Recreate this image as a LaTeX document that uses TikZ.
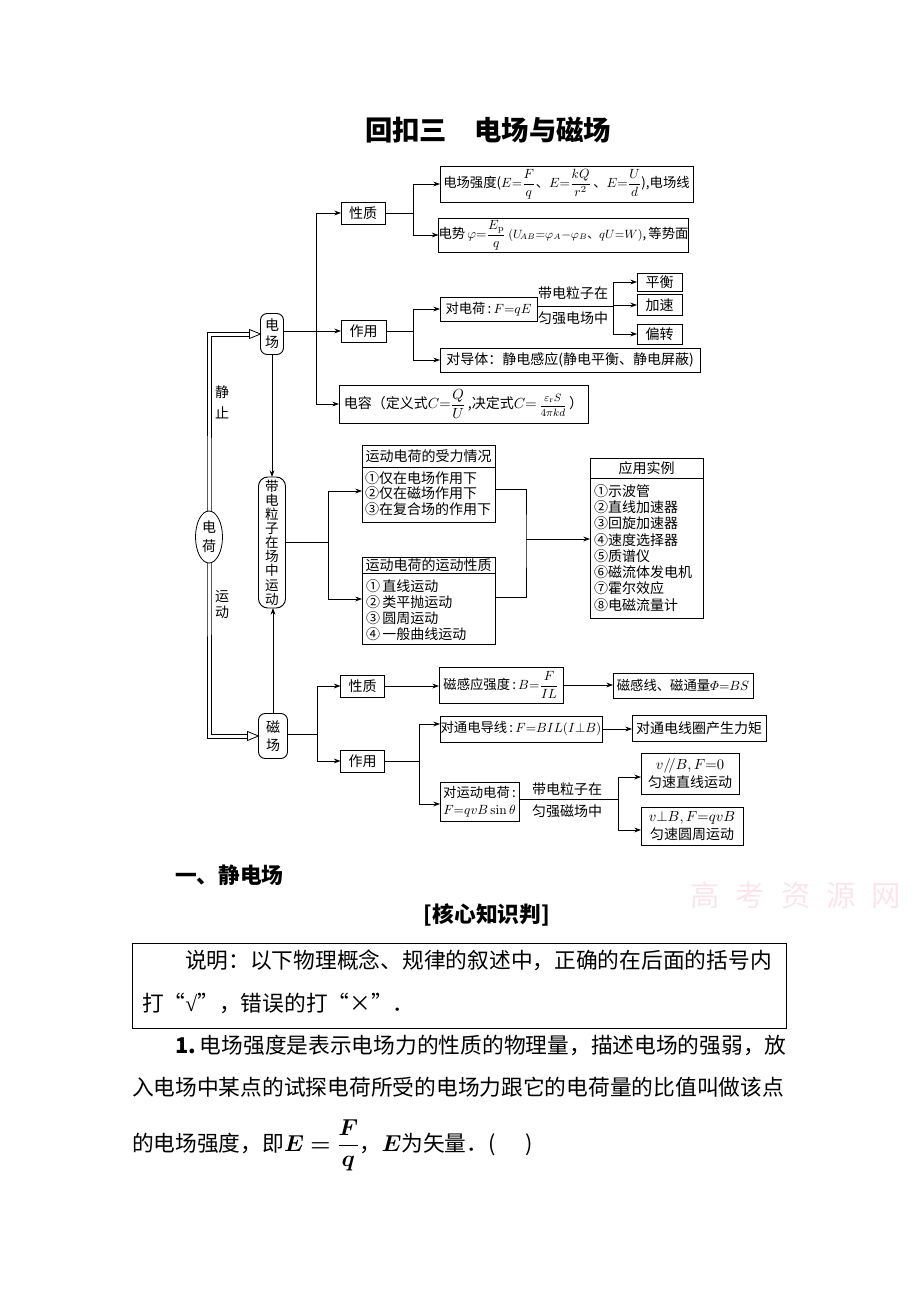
\documentclass[tikz,border=0pt]{standalone}
\usepackage{amsmath,bm}
\usepackage[no-math]{fontspec}
\setmainfont{Noto Sans CJK SC}
\newfontfamily\serifl{Liberation Serif}
\usetikzlibrary{arrows.meta,shapes.geometric,calc}
\newcommand\dgfont{\fontsize{10.5}{12}\selectfont}
\newcommand\smfont{\fontsize{10}{12}\selectfont}
\newcommand\titlefont{\fontsize{20.5}{20.5}\selectfont\bfseries}
\newcommand\secfont{\fontsize{16.3}{16.3}\selectfont\bfseries}
\newcommand\bodyfont{\fontsize{16.3}{16.3}\selectfont}
\definecolor{wmpink}{RGB}{252,228,237}
\begin{document}
\begin{tikzpicture}[x=0.75pt,y=-0.75pt,
  every node/.style={inner sep=0pt,outer sep=0pt,font=\dgfont,align=center},
  ln/.style={line width=0.6pt},
  arr/.style={ln,-{Stealth[length=5pt,width=3.6pt]}},
  box/.style={draw,line width=0.7pt,align=center},
  rbox/.style={box,rounded corners=5pt},
  sz/.style 2 args={minimum width=#1*0.75pt,minimum height=#2*0.75pt}]
\useasboundingbox (0,0) rectangle (920,1302);

% title
\node[font=\titlefont] (title) at (488,130) {回扣三　电场与磁场};

% ---- electric field part
\node[rbox,sz={23}{41},font=\fontsize{10.5}{12.8}\selectfont] (dc) at (272,334) {电\\场};
\node[box,sz={44}{22}] (xz1) at (363,213) {性质};
\node[box,sz={253}{36},font=\smfont] (qd) at (566.5,184) {电场强度($E{=}\dfrac{F}{q}$、$E{=}\dfrac{kQ}{r^2}$\,、$E{=}\dfrac{U}{d}$),电场线};
\node[box,sz={247}{34},font=\smfont] (ds) at (563.5,235) {电势$\,\varphi{=}\dfrac{E_{\mathrm p}}{q}$\,{\fontsize{8.8}{10}\selectfont$(U_{\!AB}{=}\varphi_A{-}\varphi_B$、$qU{=}W)$},\,等势面};
\node[box,sz={45}{22}] (zy1) at (363.5,331) {作用};
\node[box,sz={97}{24},font=\smfont] (ddh) at (488.5,309) {对电荷\,:\,$F{=}qE$};
\node[box,sz={45}{18}] (ph) at (659.5,282) {平衡};
\node[box,sz={45}{21}] (js) at (659.5,305) {加速};
\node[box,sz={45}{20}] (pz) at (659.5,334) {偏转};
\node[box,sz={260}{24}] (ddt) at (570,360) {对导体：静电感应(静电平衡、静电屏蔽)};
\node[box,sz={249}{38}] (dr) at (463.5,404) {电容（定义式$C{=}\dfrac{Q}{U}$\,,决定式$C{=}$\,{\fontsize{8}{9}\selectfont$\dfrac{\varepsilon_{\mathrm r}S}{4\pi kd}$}\,）};
\node (l1) at (573,293) {带电粒子在};
\node (l2) at (573,318) {匀强电场中};

\coordinate (b1) at ($(dc.east|-zy1.west)+(32.5,0)$);
\draw[arr] (dc.east|-zy1.west) -- (zy1.west);
\draw[arr] (b1) |- (xz1.west);
\draw[arr] (b1) |- (dr.west);
\draw[ln] (xz1.east) -- ++(28,0) coordinate (b2);
\draw[arr] (b2) |- (qd.west);
\draw[arr] (b2) |- (ds.west);
\draw[ln] (zy1.east) -- ++(27,0) coordinate (b3);
\draw[arr] (b3) |- (ddh.west);
\draw[arr] (b3) |- (ddt.west);
\draw[ln] ($(ddh.east)+(0,-3)$) -- ++(76,0) coordinate (b4);
\draw[arr] (b4) |- (ph.west);
\draw[arr] (b4) |- (js.west);
\draw[arr] (b4) |- (pz.west);

% ---- left column
\node[rbox,rounded corners=7pt,sz={27}{131},font=\fontsize{10.2}{10.6}\selectfont] (dlz) at (272,542.5) {带\\电\\粒\\子\\在\\场\\中\\运\\动};
\node[rbox,sz={29}{45},font=\fontsize{10.5}{13.5}\selectfont] (cc) at (273,736) {磁\\场};
\coordinate (dhc) at (209,537);
\draw[ln] ($(dc.west)+(-10,-2)$) -| ($(dhc)+(-2,0)$) |- ($(cc.west)+(-10,2)$);
\draw[ln] ($(dc.west)+(-10,2)$) -| ($(dhc)+(2,0)$) |- ($(cc.west)+(-10,-2)$);
\draw[ln,fill=white] (dc.west) -- ++(-11,-4.5) -- ++(0,9) -- cycle;
\draw[ln,fill=white] (cc.west) -- ++(-11,-4.5) -- ++(0,9) -- cycle;
\node[draw,ellipse,ln,fill=white,sz={27}{52},font=\fontsize{10.5}{14}\selectfont] (dh) at (dhc) {电\\荷};
\node[font=\fontsize{10.5}{15.5}\selectfont] (jz) at (222,402) {静\\止};
\node[font=\fontsize{10.5}{12}\selectfont] (yd) at (222,605) {运\\动};
\draw[arr] (dc.south) -- (dlz.north);
\draw[arr] (cc.north) -- (cc.north|-dlz.south);

% ---- middle part
\node[box,sz={133}{77}] (sl) at (428.5,483.5) {};
\draw[ln] ($(sl.north west)+(0,22)$) -- ($(sl.north east)+(0,22)$);
\node (slh) at ($(sl.north)+(0,11)$) {运动电荷的受力情况};
\node[anchor=north west,align=left,font=\fontsize{10.5}{11.6}\selectfont] (sli) at ($(sl.north west)+(3,26.5)$) {①仅在电场作用下\\②仅在磁场作用下\\③在复合场的作用下};

\node[box,sz={133}{87}] (xz2) at (428.5,600.5) {};
\draw[ln] ($(xz2.north west)+(0,16)$) -- ($(xz2.north east)+(0,16)$);
\node (xz2h) at ($(xz2.north)+(0,8)$) {运动电荷的运动性质};
\node[anchor=north west,align=left,font=\fontsize{10.5}{12}\selectfont] (xz2i) at ($(xz2.north west)+(4,22.5)$) {①\,直线运动\\②\,类平抛运动\\③\,圆周运动\\④\,一般曲线运动};

\node[box,sz={113}{160}] (yy) at (646.5,538) {};
\draw[ln] ($(yy.north west)+(0,20)$) -- ($(yy.north east)+(0,20)$);
\node (yyh) at ($(yy.north)+(0,10)$) {应用实例};
\node[anchor=north west,align=left,font=\fontsize{10.5}{12.2}\selectfont] (yyi) at ($(yy.north west)+(4,26.5)$) {①示波管\\②直线加速器\\③回旋加速器\\④速度选择器\\⑤质谱仪\\⑥磁流体发电机\\⑦霍尔效应\\⑧电磁流量计};

\draw[ln] (dlz.east) -- ++(43,0) coordinate (b5);
\draw[arr] (b5) |- ($(sl.west)+(0,7.5)$);
\draw[arr] (b5) |- ($(xz2.west)+(0,-1.5)$);
\coordinate (b6) at ($(sl.east)+(31,55.5)$);
\draw[ln] ($(sl.east)+(0,5.5)$) -| (b6) |- ($(xz2.east)+(0,-3.5)$);
\draw[arr] (b6) -- (b6-|yy.west);

% ---- magnetic part
\node[box,sz={44}{22}] (xz3) at (362.5,686) {性质};
\node[box,sz={44}{22}] (zy3) at (362.5,761) {作用};
\node[box,sz={124}{36},font=\smfont] (cgy) at (501,685) {磁感应强度\,:\,$B{=}\dfrac{F}{IL}$};
\node[box,sz={140}{25},font=\smfont] (cgx) at (683,685.5) {磁感线、磁通量$\varPhi{=}BS$};
\node[box,sz={162}{26},font=\smfont] (dtd) at (521,729) {对通电导线\,:\,$F{=}BIL(I{\perp}B)$};
\node[box,sz={134}{26}] (xq) at (699,728) {对通电线圈产生力矩};
\node[box,sz={79}{39},font=\fontsize{10}{13}\selectfont] (dyd) at (479.5,801.5) {对运动电荷\,:\\$F{=}qvB\sin\theta$};
\node[box,sz={98}{41},font=\fontsize{10.5}{14}\selectfont] (v1) at (690,773.5) {$v/\!/B,F{=}0$\\匀速直线运动};
\node[box,sz={102}{38},font=\fontsize{10.5}{13}\selectfont] (v2) at (692,826) {$v{\perp}B,F{=}qvB$\\匀速圆周运动};
\node (l3) at (567,789) {带电粒子在};
\node (l4) at (567,811) {匀强磁场中};

\draw[ln] ($(cc.east)+(0,-2)$) -- ++(30,0) coordinate (b7);
\draw[arr] (b7) |- (xz3.west);
\draw[arr] (b7) |- (zy3.west);
\draw[arr] (xz3.east) -- (cgy.west|-xz3.east);
\draw[arr] (cgy.east) -- (cgx.west|-cgy.east);
\draw[ln] (zy3.east) -- ++(34.5,0) coordinate (b8);
\draw[arr] (b8) |- ($(dtd.west)+(0,-5)$);
\draw[arr] (b8) |- ($(dyd.west)+(0,2.5)$);
\draw[arr] (dtd.east) -- (xq.west|-dtd.east);
\draw[ln] ($(dyd.east)+(0,-2.5)$) -- ++(99,0) coordinate (b9);
\draw[arr] (b9) |- ($(v1.west)+(0,3.5)$);
\draw[arr] (b9) |- ($(v2.west)+(0,4)$);

% ---- text part
\node[text=wmpink,font=\fontsize{22}{22}\selectfont] (wm) at (796,895) {高\kern12pt考\kern12pt资\kern12pt源\kern12pt网};
\node[anchor=west,font=\secfont] (s1) at (175,875) {一、静电场};
\node[font=\secfont] (s2) at (487,915) {[核心知识判]};
\node[draw,ln,sz={654}{85}] (nb) at (459,985.5) {};
\node[anchor=west,font=\bodyfont] (n1) at (185,960) {说明：以下物理概念、规律的叙述中，正确的在后面的括号内};
\node[anchor=west,font=\bodyfont] (n2) at (142,1003) {打“{\serifl √}”，错误的打“×”．};
\node[anchor=west,font=\bodyfont] (p1) at (175,1045) {\textbf{1.}\hspace{3pt}电场强度是表示电场力的性质的物理量，描述电场的强弱，放};
\node[anchor=west,font=\bodyfont] (p2) at (132,1087) {入电场中某点的试探电荷所受的电场力跟它的电荷量的比值叫做该点};
\node[anchor=base west,font=\bodyfont] (p3) at (132,1151) {的电场强度，即$\bm{E}\bm{=}\dfrac{\bm{F}}{\bm{q}}$，$\bm{E}$为矢量．(\hspace{22pt})};
\end{tikzpicture}
\end{document}
